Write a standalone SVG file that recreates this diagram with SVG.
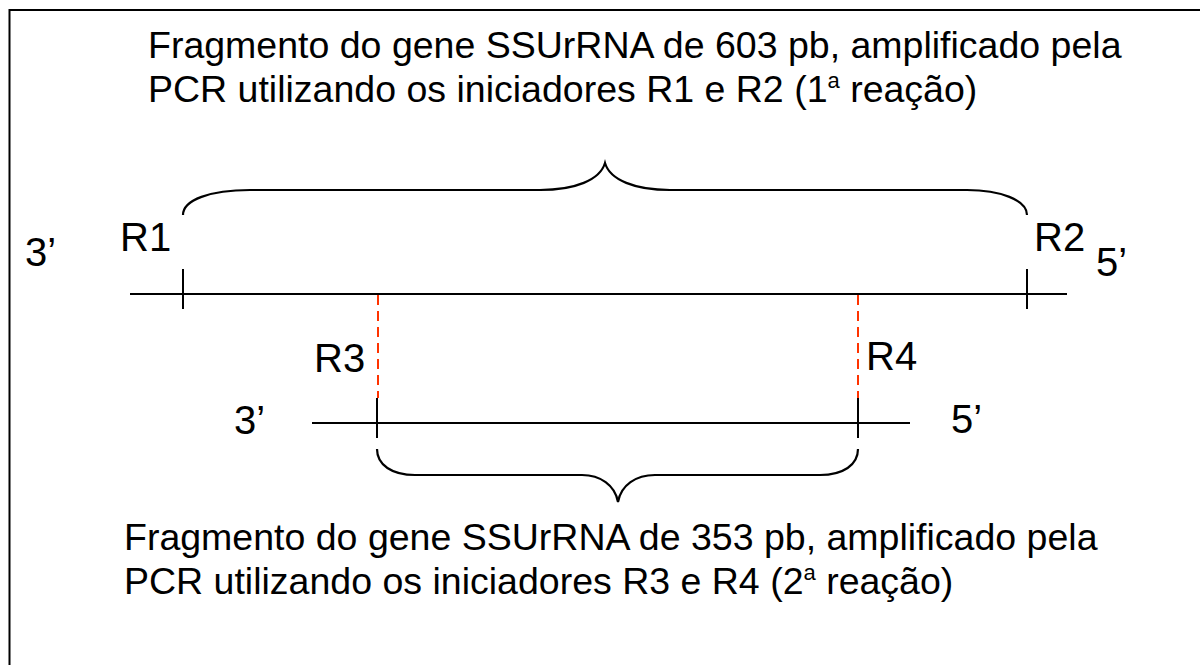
<svg xmlns="http://www.w3.org/2000/svg" width="1200" height="665" viewBox="0 0 1200 665">
<style>
.t{font-family:"Liberation Sans",Arial,sans-serif;font-size:37.5px;fill:#000}
.l{font-family:"Liberation Sans",Arial,sans-serif;font-size:40px;fill:#000}
.ln{stroke:#000;stroke-width:2;fill:none}
.br{stroke:#000;stroke-width:2.2;fill:none}
.ds{stroke:#ff3300;stroke-width:2;stroke-dasharray:10,6;fill:none}
.sup{font-size:22px}
</style>
<rect x="0" y="0" width="1200" height="665" fill="#fff"/>
<rect id="frame" x="9.5" y="10" width="1200" height="700" fill="none" stroke="#000" stroke-width="2"/>
<g id="title-top">
<text class="t" x="148" y="58">Fragmento do gene SSUrRNA de 603 pb, amplificado pela</text>
<text class="t" x="148" y="102">PCR utilizando os iniciadores R1 e R2 (1<tspan class="sup" dy="-14">a</tspan><tspan dy="14"> reação)</tspan></text>
</g>
<g id="title-bottom">
<text class="t" x="124" y="550">Fragmento do gene SSUrRNA de 353 pb, amplificado pela</text>
<text class="t" x="124" y="594">PCR utilizando os iniciadores R3 e R4 (2<tspan class="sup" dy="-14">a</tspan><tspan dy="14"> reação)</tspan></text>
</g>
<g id="strand1">
<line class="ln" x1="130" y1="294" x2="1067" y2="294"/>
<text class="l" x="25" y="266">3’</text>
<text class="l" x="1096" y="276">5’</text>
</g>
<g id="R1">
<line class="ln" x1="183" y1="269" x2="183" y2="309"/>
<text class="l" x="120" y="251">R1</text>
</g>
<g id="R2">
<line class="ln" x1="1027" y1="269" x2="1027" y2="309"/>
<text class="l" x="1034" y="251">R2</text>
</g>
<g id="brace-top">
<path class="br" d="M183,215 C183,200 210,190 250,190 L540,190 C575,190 600,180 605,163 C610,180 635,190 670,190 L967,190 C1000,190 1027,200 1027,215"/>
</g>
<g id="strand2">
<line class="ln" x1="312" y1="423" x2="910" y2="423"/>
<text class="l" x="234" y="434">3’</text>
<text class="l" x="951" y="433">5’</text>
</g>
<g id="R3">
<line class="ds" x1="378" y1="295" x2="378" y2="398"/>
<line class="ln" x1="377" y1="398" x2="377" y2="438"/>
<text class="l" x="314" y="372">R3</text>
</g>
<g id="R4">
<line class="ds" x1="858" y1="295" x2="858" y2="398"/>
<line class="ln" x1="858" y1="398" x2="858" y2="438"/>
<text class="l" x="866" y="370">R4</text>
</g>
<g id="brace-bottom">
<path class="br" d="M377,449 C377,465 392,475 415,475 L582,475 C600,475 615,485 618,502 C621,485 636,475 655,475 L820,475 C843,475 858,465 858,449"/>
</g>
</svg>
